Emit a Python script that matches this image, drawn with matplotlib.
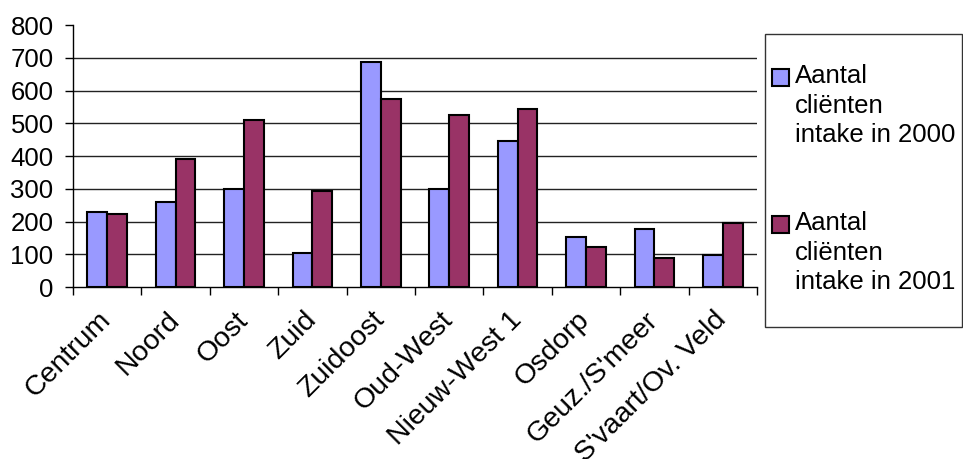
import numpy as np
import matplotlib.pyplot as plt
from matplotlib.patches import Rectangle

plt.rcParams['font.family'] = ['Liberation Sans', 'DejaVu Sans']

districts = ['Centrum', 'Noord', 'Oost', 'Zuid', 'Zuidoost', 'Oud-West',
             'Nieuw-West 1', 'Osdorp', 'Geuz./S\'meer', 'S\'vaart/Ov. Veld']
intake_2000 = [230, 259, 300, 105, 686, 300, 447, 153, 176, 97]
intake_2001 = [224, 392, 511, 292, 574, 526, 544, 123, 90, 195]
series_labels = ['Aantal\ncliënten\nintake in 2000', 'Aantal\ncliënten\nintake in 2001']
series_colors = ['#9999FF', '#993366']

fig = plt.figure(figsize=(9.63, 4.59), dpi=100)
ax = fig.add_axes([0.0758, 0.3747, 0.7103, 0.5708])

x = np.arange(len(districts))
w = 0.29
ax.bar(x - w / 2, intake_2000, width=w, color=series_colors[0],
       edgecolor='black', linewidth=1.5, zorder=3)
ax.bar(x + w / 2, intake_2001, width=w, color=series_colors[1],
       edgecolor='black', linewidth=1.5, zorder=3)

ax.set_xlim(-0.5, len(districts) - 0.5)
ax.set_ylim(0, 800)
ax.set_yticks(range(0, 801, 100))

# gridlines for 100..700 only
ax.yaxis.grid(True, color='#222222', linewidth=1.0, zorder=0)
ax.set_axisbelow(True)
gls = ax.yaxis.get_gridlines()
gls[0].set_visible(False)
gls[-1].set_visible(False)

for s in ['top', 'right']:
    ax.spines[s].set_visible(False)
ax.spines['left'].set_linewidth(1.0)
ax.spines['bottom'].set_linewidth(1.0)

ax.tick_params(axis='y', labelsize=18.5, length=6, width=1.0, pad=8)
ax.set_xticks(x)
ax.set_xticks(np.arange(-0.5, len(districts)), minor=True)
ax.tick_params(axis='x', which='major', length=0, pad=21)
ax.tick_params(axis='x', which='minor', length=6, width=1.0)
ax.set_xticklabels(districts, rotation=45, ha='right', va='center',
                   rotation_mode='anchor', fontsize=20.5)

# legend box drawn in figure pixels
W, H = 963, 459
fig.add_artist(Rectangle((765 / W, 1 - 327 / H), 197 / W, 293 / H,
                         transform=fig.transFigure, facecolor='white',
                         edgecolor='#333333', linewidth=1.0))
for i, (lab, col) in enumerate(zip(series_labels, series_colors)):
    top = 69 + i * 147
    fig.add_artist(Rectangle((772 / W, 1 - (top + 17) / H), 17 / W, 17 / H,
                             transform=fig.transFigure, facecolor=col,
                             edgecolor='black', linewidth=1.5))
    fig.text(795 / W, 1 - (top - 5) / H, lab, fontsize=18.5, va='top',
             ha='left', linespacing=1.3)

fig.savefig('out.png', dpi=100)
